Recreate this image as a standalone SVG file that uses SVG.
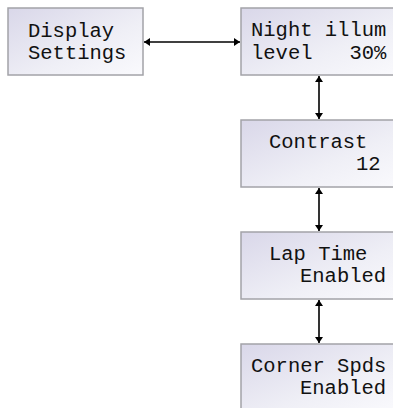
<svg xmlns="http://www.w3.org/2000/svg" width="393" height="408" viewBox="0 0 393 408">
<style>
.box{fill:url(#g);stroke:#a3a3a8;stroke-width:1.5}
.t{font-family:"Liberation Mono","DejaVu Sans Mono",monospace;font-size:20.5px;fill:#111;white-space:pre}
.c{stroke:#000;stroke-width:1.6;fill:none;marker-start:url(#a);marker-end:url(#a)}
</style>
<defs>
<linearGradient id="g" x1="0" y1="0" x2="1" y2="1">
<stop offset="0" stop-color="#d9d7e9"/>
<stop offset="0.6" stop-color="#efeff6"/>
<stop offset="1" stop-color="#fafafd"/>
</linearGradient>
<marker id="a" viewBox="0 0 10 10" refX="10" refY="5" markerWidth="6" markerHeight="8" markerUnits="userSpaceOnUse" orient="auto-start-reverse" preserveAspectRatio="none">
<path d="M0,0 L10,5 L0,10 z" fill="#000"/>
</marker>
</defs>
<rect width="393" height="408" fill="#fff"/>
<g id="connectors">
<line class="c" x1="144" y1="42" x2="240" y2="42"/>
<line class="c" x1="319" y1="76" x2="319" y2="119"/>
<line class="c" x1="319" y1="188" x2="319" y2="231"/>
<line class="c" x1="319" y1="300" x2="319" y2="343"/>
</g>
<g id="display-settings">
<rect class="box" x="8" y="8" width="135" height="67"/>
<text class="t" x="28" y="37">Display</text>
<text class="t" x="28" y="59">Settings</text>
</g>
<g id="night-illum">
<rect class="box" x="241" y="8" width="160" height="67"/>
<text class="t" x="251" y="36">Night illum</text>
<text class="t" x="251" y="59" xml:space="preserve">level   30%</text>
</g>
<g id="contrast">
<rect class="box" x="241" y="120" width="160" height="67"/>
<text class="t" x="269" y="148">Contrast</text>
<text class="t" x="356" y="170">12</text>
</g>
<g id="lap-time">
<rect class="box" x="241" y="232" width="160" height="67"/>
<text class="t" x="269" y="260">Lap Time</text>
<text class="t" x="300" y="282">Enabled</text>
</g>
<g id="corner-spds">
<rect class="box" x="241" y="344" width="160" height="67"/>
<text class="t" x="251" y="372">Corner Spds</text>
<text class="t" x="300" y="394">Enabled</text>
</g>
</svg>
